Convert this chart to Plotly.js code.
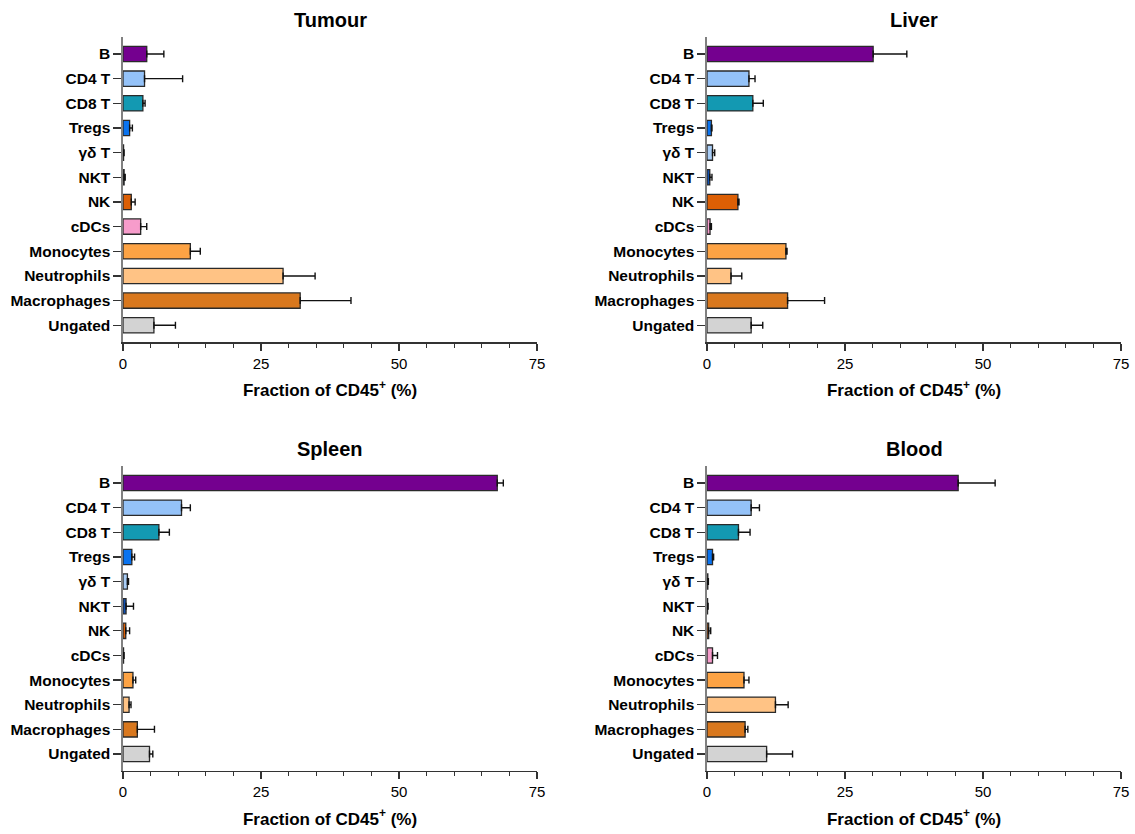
<!DOCTYPE html>
<html>
<head>
<meta charset="utf-8">
<script src="https://cdn.plot.ly/plotly-3.0.1.min.js"></script>
<style>html,body{margin:0;padding:0;background:#fff;}#chart{width:1135px;height:834px;}</style>
</head>
<body>
<div id="chart"></div>
<script>
const categories = ['B','CD4 T','CD8 T','Tregs','γδ T','NKT','NK','cDCs','Monocytes','Neutrophils','Macrophages','Ungated'];
const barColors = ['#74008f','#94c2f8','#1399b2','#0a73ef','#a9cdf6','#0f4fb0','#dc5f05','#f79ccb','#fda344','#ffc385','#d9781e','#d3d3d3'];

const panelTitles = ['Tumour','Liver','Spleen','Blood'];

const tumourMean = [4.3, 3.9, 3.6, 1.2, 0.1, 0.2, 1.5, 3.2, 12.2, 29.0, 32.1, 5.6];
const tumourErr  = [3.1, 6.9, 0.4, 0.5, 0.1, 0.2, 0.7, 1.1, 1.8, 5.8, 9.2, 3.9];

const liverMean = [30.1, 7.6, 8.3, 0.8, 1.0, 0.5, 5.6, 0.55, 14.3, 4.35, 14.6, 8.0];
const liverErr  = [6.1, 1.1, 1.9, 0.1, 0.4, 0.4, 0.2, 0.25, 0.2, 1.95, 6.7, 2.1];

const spleenMean = [67.8, 10.6, 6.5, 1.6, 0.8, 0.55, 0.5, 0.1, 1.8, 1.1, 2.6, 4.8];
const spleenErr  = [1.1, 1.6, 1.9, 0.5, 0.2, 1.35, 0.7, 0.1, 0.5, 0.35, 3.1, 0.6];

const bloodMean = [45.5, 8.0, 5.7, 1.0, 0.15, 0.1, 0.3, 1.0, 6.7, 12.4, 6.9, 10.8];
const bloodErr  = [6.7, 1.5, 2.1, 0.2, 0.1, 0.1, 0.37, 0.9, 0.9, 2.3, 0.5, 4.7];

const xTickVals = [0, 25, 50, 75];
const xAxisTitle = 'Fraction of CD45<sup>+</sup> (%)';

const FONT = 'Liberation Sans, Arial, Helvetica, sans-serif';
const W = 1135, H = 834;

const means = [tumourMean, liverMean, spleenMean, bloodMean];
const errs = [tumourErr, liverErr, spleenErr, bloodErr];

// pixel layout of plot areas
const xPix = [[123, 537], [707, 1121], [123, 537], [707, 1121]];
const yPix = [[36.7, 342.3], [36.7, 342.3], [465.8, 771], [465.8, 771]];

const traces = [];
const layout = {
  width: W, height: H,
  margin: {l: 0, r: 0, t: 0, b: 0},
  paper_bgcolor: '#fff', plot_bgcolor: '#fff',
  showlegend: false,
  font: {family: FONT, color: '#000'},
  bargap: 0.38,
  annotations: []
};

for (let i = 0; i < 4; i++) {
  const sfx = i === 0 ? '' : String(i + 1);
  traces.push({
    type: 'bar',
    orientation: 'h',
    x: means[i],
    y: categories,
    xaxis: 'x' + sfx,
    yaxis: 'y' + sfx,
    marker: {color: barColors, line: {color: '#2a2a2a', width: 1.3}},
    error_x: {
      type: 'data', symmetric: false,
      array: errs[i],
      arrayminus: errs[i].map(() => 0),
      color: '#111', thickness: 1.4, width: 3.5
    },
    hoverinfo: 'x+y'
  });
  const xd = [xPix[i][0] / W, xPix[i][1] / W];
  const yd = [1 - yPix[i][1] / H, 1 - yPix[i][0] / H];
  layout['xaxis' + sfx] = {
    domain: xd,
    anchor: 'y' + sfx,
    range: [0, 75],
    tickvals: xTickVals,
    ticks: 'outside', ticklen: 7, tickwidth: 1.3, tickcolor: '#333',
    minor: {dtick: 5, tick0: 0, ticks: 'outside', ticklen: 4, tickwidth: 1.2, tickcolor: '#333', showgrid: false},
    showline: true, linecolor: '#333', linewidth: 1.4,
    showgrid: false, zeroline: false,
    tickfont: {family: FONT, size: 15, color: '#000'},
    title: {text: xAxisTitle, font: {family: FONT, size: 17, color: '#000', weight: 'bold'}, standoff: 13},
    fixedrange: true
  };
  layout['yaxis' + sfx] = {
    domain: yd,
    anchor: 'x' + sfx,
    type: 'category',
    categoryorder: 'array', categoryarray: categories,
    range: [11.69, -0.7],
    ticks: 'outside', ticklen: 8, tickwidth: 1.3, tickcolor: '#333',
    showline: true, linecolor: '#808080', linewidth: 1.6,
    showgrid: false, zeroline: false,
    tickfont: {family: FONT, size: 15.5, color: '#000', weight: 'bold'},
    fixedrange: true
  };
  layout.annotations.push({
    text: panelTitles[i],
    xref: 'paper', yref: 'paper',
    x: (xd[0] + xd[1]) / 2,
    y: 1 - (i < 2 ? 20 : 449) / H,
    xanchor: 'center', yanchor: 'middle',
    showarrow: false,
    font: {family: FONT, size: 20, color: '#000', weight: 'bold'}
  });
}

Plotly.newPlot('chart', traces, layout, {displayModeBar: false, staticPlot: true});
</script>
</body>
</html>
